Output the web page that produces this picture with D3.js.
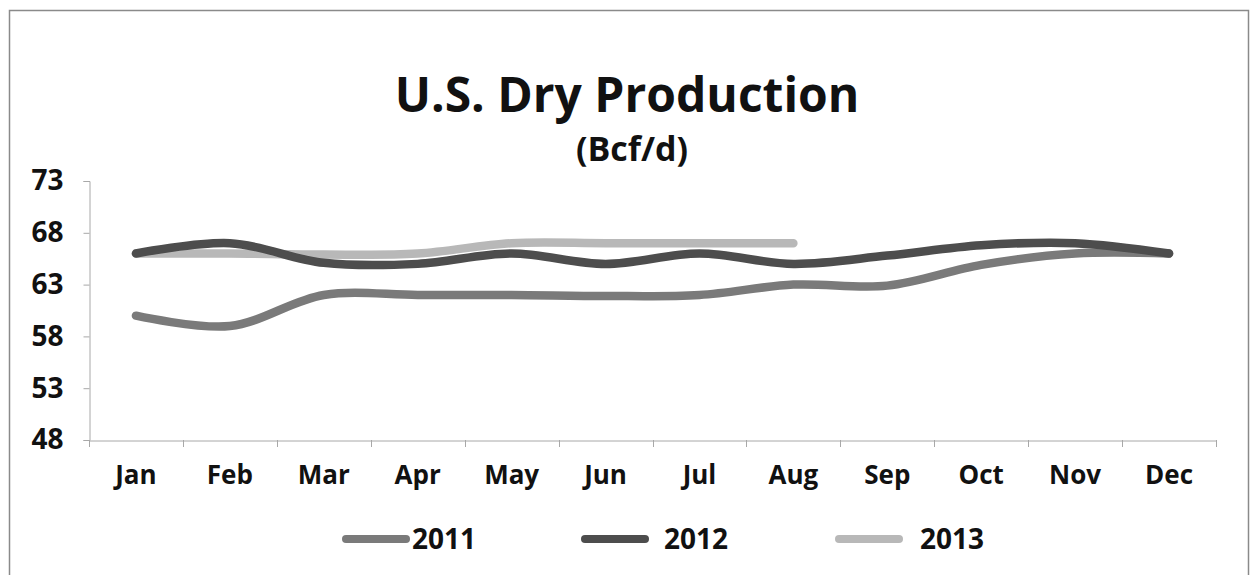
<!DOCTYPE html>
<html>
<head>
<meta charset="utf-8">
<script src="https://cdn.jsdelivr.net/npm/d3@7"></script>
<style>
  html, body { margin: 0; padding: 0; background: #fff; }
  svg { display: block; }
</style>
</head>
<body>
<svg id="chart" width="1253" height="575"></svg>
<script>
const months = ['Jan', 'Feb', 'Mar', 'Apr', 'May', 'Jun', 'Jul', 'Aug', 'Sep', 'Oct', 'Nov', 'Dec']
const yTicks = [48, 53, 58, 63, 68, 73]
const years = ['2011', '2012', '2013']
const values2011 = [60, 59, 62, 62, 62, 61.9, 62, 63, 62.9, 64.9, 66, 66]
const values2012 = [66, 67, 65.1, 65, 66, 65, 66, 65, 65.8, 66.8, 67, 66]
const values2013 = [66, 66, 65.9, 66, 67, 67, 67, 67]
const seriesColors = ['#7a7a7a', '#4d4d4d', '#b8b8b8']

const font = '"Open Sans", "DejaVu Sans", sans-serif'
const svg = d3.select('#chart')

// outer frame of the chart object
svg.append('rect')
  .attr('x', 9.5).attr('y', 10.5).attr('width', 1239).attr('height', 600)
  .attr('fill', 'none').attr('stroke', '#8a8a8a').attr('stroke-width', 1.5)

svg.append('text')
  .attr('x', 627).attr('y', 112)
  .attr('text-anchor', 'middle')
  .attr('font-family', font).attr('font-weight', 700).attr('font-size', 48)
  .attr('fill', '#111')
  .text('U.S. Dry Production')

svg.append('text')
  .attr('x', 632).attr('y', 161)
  .attr('text-anchor', 'middle')
  .attr('font-family', font).attr('font-weight', 700).attr('font-size', 34)
  .attr('fill', '#111')
  .text('(Bcf/d)')

const x = d3.scaleBand().domain(months).range([89, 1216])
const y = d3.scaleLinear().domain([48, 73]).range([440, 181])

// y axis
const yAxis = svg.append('g')
  .attr('transform', 'translate(89.5,0)')
  .call(d3.axisLeft(y).tickValues(yTicks).tickSize(6).tickPadding(20))
yAxis.select('.domain').attr('stroke', '#a8a8a8').attr('stroke-width', 1)
yAxis.selectAll('.tick line').attr('stroke', '#a8a8a8')
yAxis.selectAll('.tick text')
  .attr('font-family', font).attr('font-weight', 700).attr('font-size', 28)
  .attr('fill', '#111')

// x axis
const xAxis = svg.append('g')
  .attr('transform', 'translate(0,440.5)')
  .call(d3.axisBottom(x).tickSize(0).tickPadding(25))
xAxis.select('.domain').attr('stroke', '#a8a8a8').attr('stroke-width', 1)
xAxis.selectAll('.tick text')
  .attr('font-family', font).attr('font-weight', 700).attr('font-size', 26)
  .attr('fill', '#111')

// category boundary ticks
const bounds = months.map(m => x(m)).concat([x.range()[1]])
svg.append('g').selectAll('line')
  .data(bounds)
  .join('line')
  .attr('x1', d => Math.round(d) + 0.5).attr('x2', d => Math.round(d) + 0.5)
  .attr('y1', 440).attr('y2', 447)
  .attr('stroke', '#a8a8a8')

const line = d3.line()
  .x((d, i) => x(months[i]) + x.bandwidth() / 2)
  .y(d => y(d))
  .curve(d3.curveCatmullRom.alpha(0.5))

const seriesData = [values2011, values2012, values2013]
// draw 2011 first, then 2013, then 2012 on top where they cross
const drawOrder = [0, 2, 1]
drawOrder.forEach(i => {
  svg.append('path')
    .datum(seriesData[i])
    .attr('d', line)
    .attr('fill', 'none')
    .attr('stroke', seriesColors[i])
    .attr('stroke-width', 8.5)
    .attr('stroke-linecap', 'round')
    .attr('stroke-linejoin', 'round')
})

// legend
const legendX = [342, 581, 835]
const legendTextX = [412, 664, 920]
const legend = svg.append('g')
years.forEach((yr, i) => {
  legend.append('line')
    .attr('x1', legendX[i] + 4).attr('x2', legendX[i] + 64)
    .attr('y1', 539).attr('y2', 539)
    .attr('stroke', seriesColors[i]).attr('stroke-width', 8)
    .attr('stroke-linecap', 'round')
  legend.append('text')
    .attr('x', legendTextX[i]).attr('y', 549)
    .attr('font-family', font).attr('font-weight', 700).attr('font-size', 28)
    .attr('fill', '#111')
    .text(yr)
})
</script>
</body>
</html>
